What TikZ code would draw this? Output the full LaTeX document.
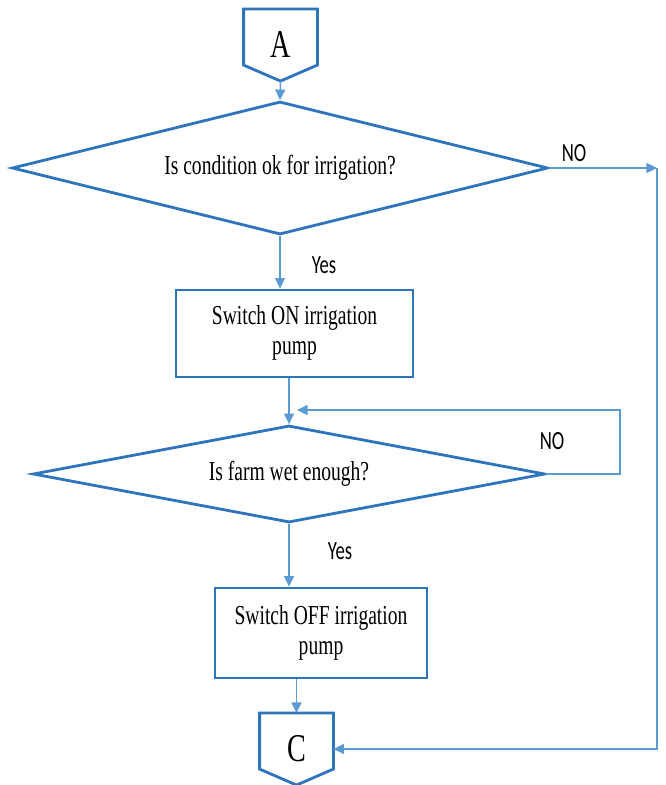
\documentclass[tikz,border=0pt]{standalone}
\usepackage{fontspec}
\setmainfont{Liberation Serif}
\newfontfamily\answerfont{Carlito}
\usepackage{graphicx}
\usetikzlibrary{shapes.geometric,arrows.meta,calc}
\newcommand{\tallt}[1]{\scalebox{1}[1.4]{#1}}
\definecolor{shapeblue}{RGB}{46,117,190}
\definecolor{flowblue}{RGB}{91,155,213}

\begin{document}
\begin{tikzpicture}[x=0.03cm,y=-0.03cm,
    shapeline/.style={draw=shapeblue,line width=2.4pt},
    decision/.style={diamond,aspect=4,shapeline,inner sep=0pt,font=\fontsize{16.7}{18.3}\selectfont},
    process/.style={rectangle,shapeline,inner sep=0pt,font=\fontsize{16.7}{18.3}\selectfont},
    offpage/.style={rectangle,inner sep=0pt,minimum width=2.2cm,minimum height=2.15cm,font=\fontsize{24}{26}\selectfont},
    flow/.style={draw=flowblue,line width=1.2pt,-{Triangle[length=9pt,width=8.5pt]}},
    answer/.style={font=\answerfont\fontsize{16}{18}\selectfont}]
    \useasboundingbox (0,0) rectangle (665,785);
    % connectors
    \node[offpage] (A) at (280.5,45) {\tallt{A}};
    \node[offpage] (C) at (296.5,749) {\tallt{C}};
    \foreach \n in {A,C}{%
        \draw[shapeline] (\n.north west) -- (\n.north east) -- ($(\n.south east)+(0,-16)$)
            -- (\n.south) -- ($(\n.south west)+(0,-16)$) -- cycle;
    }%
    % steps
    \node[decision,minimum width=16.08cm,minimum height=3.99cm] (cond) at (280,168) {\tallt{Is condition ok for irrigation?}};
    \node[process,minimum width=7.11cm,minimum height=2.61cm] (pumpon) at (294.5,333.5)
        {\tallt{\begin{tabular}{@{}c@{}}Switch ON irrigation\\pump\end{tabular}}};
    \node[decision,minimum width=15.36cm,minimum height=2.91cm] (wet) at (289,474) {\tallt{Is farm wet enough?}};
    \node[process,minimum width=6.36cm,minimum height=2.7cm] (pumpoff) at (321,633)
        {\tallt{\begin{tabular}{@{}c@{}}Switch OFF irrigation\\pump\end{tabular}}};
    % answers
    \node[answer] (no1) at (574,153) {\tallt{NO}};
    \node[answer] (no2) at (552,441) {\tallt{NO}};
    \node[answer] (yes1) at (324,265) {\tallt{Yes}};
    \node[answer] (yes2) at (340,551) {\tallt{Yes}};
    % flow
    \coordinate (condno) at (657,168);
    \coordinate (wetloop) at (620,410);
    \coordinate (wetin) at (297,410);
    \draw[flow] (A.south) -- (cond.north);
    \draw[flow] (cond.south) -- (cond.south |- pumpon.north);
    \draw[flow] (wet.north |- pumpon.south) -- (wet.north);
    \draw[flow] (wet.south) -- (wet.south |- pumpoff.north);
    \draw[flow] (C.north |- pumpoff.south) -- (C.north);
    \draw[flow] (cond.east) -- (condno);
    \draw[flow] (condno) |- (C.east);
    \draw[flow] (wet.east) -| (wetloop) -- (wetin);
\end{tikzpicture}
\end{document}
